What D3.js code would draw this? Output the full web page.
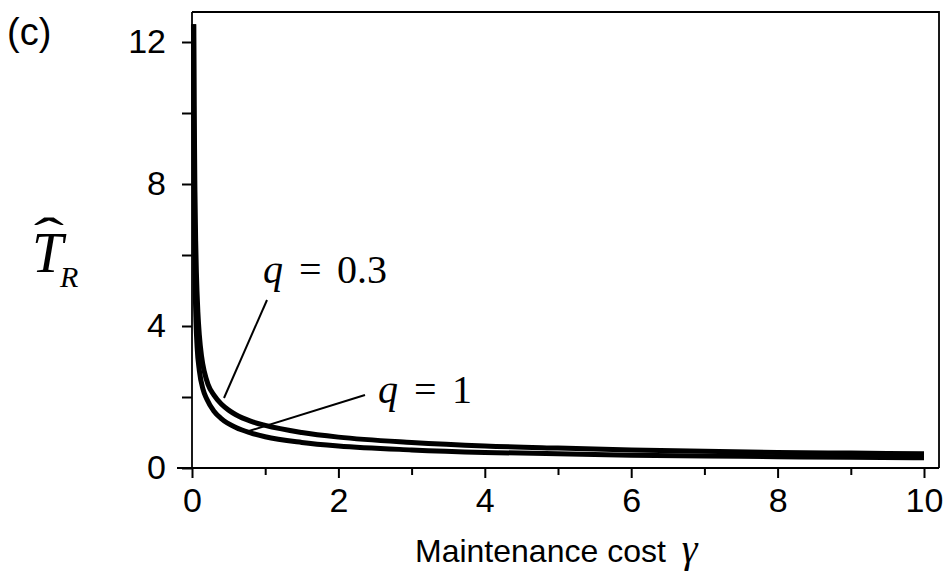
<!DOCTYPE html>
<html>
<head>
<meta charset="utf-8">
<script src="https://cdn.jsdelivr.net/npm/d3@7"></script>
<style>
  body { margin: 0; background: #fff; }
  .axis text { font-family: "Liberation Sans", Arial, sans-serif; font-size: 34px; fill: #000; }
  .axis line { stroke: #000; stroke-width: 2px; }
  .axis path { display: none; }
  .math { font-family: "Liberation Serif", "Times New Roman", serif; }
</style>
</head>
<body>
<svg width="948" height="584"></svg>
<script>
// values
var gammaHigh = [0.025, 0.03, 0.04, 0.05, 0.06, 0.08, 0.1, 0.13, 0.17, 0.22, 0.3, 0.4, 0.5, 0.6, 0.8, 1, 1.5, 2, 3, 4, 5, 6, 7, 8, 9, 10];
var tHigh =     [12.5, 10.2, 7.8, 6.4, 5.5, 4.4, 3.75, 3.15, 2.7, 2.35, 2.05, 1.8, 1.63, 1.5, 1.32, 1.2, 1.0, 0.87, 0.72, 0.62, 0.56, 0.51, 0.47, 0.44, 0.42, 0.4];
var gammaLow =  [0.02, 0.025, 0.03, 0.04, 0.055, 0.07, 0.1, 0.15, 0.2, 0.3, 0.4, 0.6, 0.8, 1, 1.5, 2, 3, 4, 5, 6, 7, 8, 9, 10];
var tLow =      [12.5, 9.6, 7.8, 5.6, 4.1, 3.4, 2.75, 2.22, 1.95, 1.6, 1.39, 1.14, 0.99, 0.88, 0.72, 0.62, 0.51, 0.44, 0.4, 0.36, 0.34, 0.32, 0.3, 0.29];
var xMajor = [0, 2, 4, 6, 8, 10];
var xMinor = [1, 3, 5, 7, 9];
var yMajor = [0, 4, 8, 12];
var yMinor = [2, 6, 10];

var svg = d3.select("svg");

var x = d3.scaleLinear().domain([0, 10]).range([192, 924]),
    y = d3.scaleLinear().domain([0, 12]).range([468, 42]);
var xMax = 10.205, yMax = 12.845;

// frame
svg.append("path")
    .attr("d", "M" + x(0) + "," + y(yMax) + "H" + x(xMax) + "V" + y(0))
    .attr("fill", "none")
    .attr("stroke", "#000")
    .attr("stroke-width", 1.8);

// axes
svg.append("g")
    .attr("class", "axis")
    .attr("transform", "translate(0," + y(0) + ")")
    .call(d3.axisBottom(x).tickValues(xMajor).tickSize(10).tickPadding(10).tickFormat(d3.format("d")));
svg.append("g")
    .attr("class", "axis")
    .attr("transform", "translate(0," + y(0) + ")")
    .call(d3.axisBottom(x).tickValues(xMinor).tickSize(7).tickFormat(""));
svg.append("g")
    .attr("class", "axis")
    .attr("transform", "translate(" + x(0) + ",0)")
    .call(d3.axisLeft(y).tickValues(yMajor).tickSize(10).tickPadding(16).tickFormat(d3.format("d")));
svg.append("g")
    .attr("class", "axis")
    .attr("transform", "translate(" + x(0) + ",0)")
    .call(d3.axisLeft(y).tickValues(yMinor).tickSize(10).tickFormat(""));

svg.append("line")
    .attr("x1", x(0) - 15).attr("x2", x(xMax))
    .attr("y1", y(0)).attr("y2", y(0))
    .attr("stroke", "#000").attr("stroke-width", 2.2);
svg.append("line")
    .attr("x1", x(0)).attr("x2", x(0))
    .attr("y1", y(0)).attr("y2", y(yMax))
    .attr("stroke", "#000").attr("stroke-width", 1.8);

// curves
var line = d3.line()
    .x(function(d) { return x(d[0]); })
    .y(function(d) { return y(d[1]); })
    .curve(d3.curveMonotoneX);

[d3.zip(gammaHigh, tHigh), d3.zip(gammaLow, tLow)].forEach(function(pts) {
  svg.append("path")
      .datum(pts)
      .attr("d", line)
      .attr("fill", "none")
      .attr("stroke", "#000")
      .attr("stroke-width", 5);
});

// leader lines
svg.append("line")
    .attr("x1", 224).attr("y1", 398).attr("x2", 267).attr("y2", 300)
    .attr("stroke", "#000").attr("stroke-width", 2);
svg.append("line")
    .attr("x1", 249).attr("y1", 431).attr("x2", 365).attr("y2", 395)
    .attr("stroke", "#000").attr("stroke-width", 2);

// labels q = ...
function qLabel(x0, yb, val) {
  var t = svg.append("text").attr("class", "math").attr("font-size", 40).attr("y", yb);
  t.append("tspan").attr("x", x0).attr("font-style", "italic").text("q");
  t.append("tspan").attr("x", x0 + 36).text("=");
  t.append("tspan").attr("x", x0 + 74).text(val);
}
qLabel(263, 283, "0.3");
qLabel(378, 403, "1");

// y label
svg.append("text").attr("class", "math")
    .attr("x", 32).attr("y", 272)
    .attr("font-size", 56).attr("font-style", "italic")
    .text("T");
svg.append("text").attr("class", "math")
    .attr("x", 60).attr("y", 287)
    .attr("font-size", 30).attr("font-style", "italic")
    .text("R");
svg.append("text").attr("class", "math")
    .attr("transform", "translate(49,252) scale(1.3,0.7)")
    .attr("font-size", 70).attr("text-anchor", "middle")
    .text("\u02C6");

// x label
var xl = svg.append("text")
    .attr("x", 415).attr("y", 562)
    .attr("font-family", "Liberation Sans, Arial, sans-serif")
    .attr("font-size", 32)
    .text("Maintenance cost");
xl.append("tspan").attr("class", "math").attr("dx", 16)
    .attr("font-style", "italic").attr("font-size", 40).text("\u03B3");

// panel tag
svg.append("text")
    .attr("x", 7).attr("y", 45)
    .attr("font-family", "Liberation Sans, Arial, sans-serif")
    .attr("font-size", 38)
    .text("(c)");
</script>
</body>
</html>
